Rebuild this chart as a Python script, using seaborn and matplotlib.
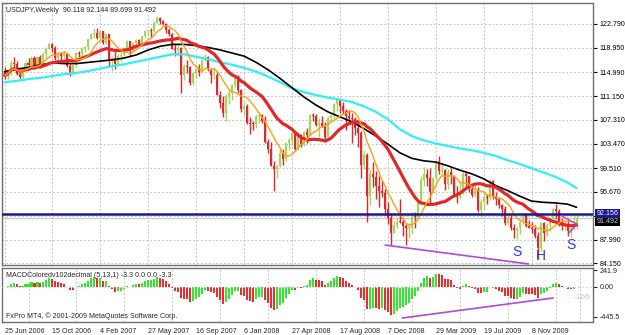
import numpy as np
import pandas as pd
import matplotlib
matplotlib.use("Agg")
import matplotlib.pyplot as plt
import seaborn as sns

# ---------------- data (weekly USDJPY bars) ----------------
opens = [115.0, 114.5, 114.9, 116.5, 116.4, 114.7, 114.2, 115.4, 116.5, 116.2,
         117.3, 116.0, 117.4, 116.4, 118.0, 118.8, 119.6, 118.9, 117.3, 118.0,
         117.6, 118.0, 116.0, 114.9, 116.1, 118.1, 117.9, 118.9, 119.1, 120.3,
         121.2, 121.4, 120.6, 121.6, 119.7, 121.1, 116.9, 117.3, 116.4, 117.6,
         117.8, 118.9, 120.0, 118.5, 119.8, 120.2, 119.6, 120.8, 121.6, 121.7,
         121.6, 123.0, 123.8, 123.2, 122.8, 121.9, 121.1, 118.8, 118.6, 118.9,
         114.6, 116.0, 115.8, 113.2, 114.8, 115.5, 115.0, 117.0, 117.5, 115.6,
         114.5, 114.6, 111.4, 110.1, 108.5, 111.0, 111.6, 112.9, 114.0, 112.2,
         109.0, 109.5, 106.8, 106.7, 106.6, 107.9, 108.1, 107.1, 103.8, 102.6,
         99.8, 99.3, 99.8, 101.9, 101.0, 103.5, 104.0, 105.2, 102.6, 104.9,
         103.3, 105.4, 104.9, 108.1, 107.9, 106.5, 106.8, 106.3, 104.6, 107.6,
         108.1, 109.9, 110.5, 109.6, 108.8, 107.9, 107.6, 107.4, 106.0, 105.2,
         100.1, 101.7, 95.0, 98.5, 98.1, 96.6, 95.8, 95.5, 92.9, 91.4,
         89.1, 90.3, 90.9, 90.8, 90.2, 89.8, 89.9, 92.1, 91.6, 94.0,
         97.6, 98.6, 98.0, 95.6, 97.9, 100.3, 99.0, 99.2, 97.0, 98.9,
         98.3, 95.2, 94.9, 95.4, 98.5, 98.2, 96.2, 95.2, 96.0, 92.7,
         94.1, 94.8, 94.7, 97.5, 94.8, 94.5, 93.6, 92.9, 90.7, 91.5,
         89.8, 89.6, 89.8, 90.9, 92.1, 90.2, 89.9, 89.7, 88.6, 86.7,
         90.6, 89.1, 90.4, 91.3, 92.9, 92.6, 90.8, 90.2, 90.3, 89.3,
         89.8, 90.118]
highs = [115.9, 115.3, 116.9, 117.4, 116.8, 115.0, 115.6, 116.8, 117.3, 117.6,
         117.6, 117.6, 117.8, 118.2, 119.0, 119.9, 119.8, 119.2, 118.2, 118.3,
         118.4, 118.1, 116.4, 116.2, 118.2, 118.4, 119.0, 119.3, 120.4, 121.4,
         122.2, 122.2, 121.9, 121.7, 121.3, 121.2, 117.6, 118.2, 118.0, 118.3,
         119.0, 120.2, 120.0, 119.9, 120.4, 120.4, 120.9, 121.8, 121.9, 122.2,
         123.2, 124.1, 123.9, 123.5, 123.0, 122.2, 121.4, 119.6, 119.6, 119.0,
         116.4, 117.0, 116.0, 115.0, 116.2, 116.3, 117.2, 117.9, 117.7, 115.7,
         115.9, 115.0, 112.0, 111.2, 111.5, 112.2, 113.1, 114.2, 114.6, 112.3,
         110.2, 109.8, 107.8, 107.2, 108.1, 108.6, 108.3, 108.0, 104.2, 103.8,
         100.6, 100.0, 102.7, 102.6, 103.6, 104.4, 105.5, 105.4, 105.3, 105.1,
         105.5, 106.0, 108.3, 108.4, 108.2, 107.6, 108.0, 106.9, 107.9, 108.3,
         110.0, 110.7, 110.6, 110.2, 109.1, 108.9, 108.4, 107.8, 107.0, 105.5,
         102.4, 102.0, 99.4, 100.5, 99.0, 98.2, 97.5, 96.2, 94.1, 92.3,
         91.0, 91.7, 94.6, 91.4, 90.5, 90.6, 92.5, 92.4, 94.2, 98.2,
         99.7, 99.3, 99.5, 98.1, 100.7, 101.4, 100.2, 99.3, 99.4, 99.6,
         98.4, 96.6, 97.4, 99.0, 98.9, 98.3, 97.0, 97.0, 96.4, 94.5,
         95.5, 95.4, 97.8, 97.6, 95.6, 94.9, 93.8, 93.4, 92.0, 91.9,
         90.5, 89.9, 91.0, 92.3, 92.3, 91.2, 90.8, 90.3, 89.2, 90.8,
         90.9, 90.6, 91.6, 93.1, 93.8, 93.0, 91.5, 91.0, 91.3, 90.0,
         91.8, 92.144]
lows = [113.9, 113.9, 114.5, 115.6, 114.6, 113.9, 113.8, 115.2, 115.9, 116.0,
        115.5, 115.9, 115.7, 116.3, 117.2, 118.7, 118.3, 117.0, 116.6, 117.0,
        117.3, 115.8, 114.4, 114.6, 115.9, 117.5, 117.6, 118.2, 118.6, 120.3,
        120.5, 120.3, 120.5, 119.5, 119.6, 115.9, 115.2, 115.5, 116.2, 116.8,
        117.6, 118.8, 117.7, 118.3, 119.3, 119.2, 119.5, 120.6, 120.9, 120.7,
        121.5, 122.9, 122.8, 122.6, 121.4, 120.9, 118.7, 117.7, 117.6, 111.6,
        113.8, 114.9, 113.0, 112.9, 114.1, 114.4, 114.9, 116.8, 115.2, 113.3,
        113.9, 111.3, 109.3, 107.8, 107.2, 109.8, 110.6, 112.6, 111.7, 108.6,
        108.1, 106.6, 105.0, 105.6, 106.0, 106.8, 106.8, 103.6, 101.9, 99.8,
        95.8, 97.9, 99.7, 100.1, 100.6, 102.4, 103.3, 102.3, 102.5, 102.9,
        103.1, 103.6, 104.8, 107.2, 106.4, 104.6, 106.2, 103.8, 104.5, 107.0,
        107.3, 108.7, 108.5, 108.3, 105.6, 106.6, 103.5, 104.9, 103.0, 97.9,
        99.3, 90.9, 93.6, 96.4, 94.6, 93.2, 94.9, 92.0, 90.5, 87.1,
        89.0, 89.9, 90.6, 88.6, 87.1, 88.2, 88.9, 89.9, 91.4, 93.9,
        96.7, 96.6, 93.6, 95.5, 97.5, 98.6, 98.2, 96.0, 96.1, 97.0,
        95.1, 93.9, 94.5, 95.3, 96.6, 95.7, 94.8, 94.9, 92.4, 91.7,
        92.9, 93.8, 94.3, 94.6, 93.6, 93.1, 91.8, 90.4, 90.4, 89.6,
        88.2, 88.0, 88.9, 90.5, 90.0, 89.9, 89.1, 88.3, 84.8, 86.2,
        87.8, 88.5, 89.4, 90.9, 91.3, 90.2, 89.6, 89.5, 88.6, 88.4,
        89.6, 89.699]
closes = [114.5, 114.9, 116.5, 116.4, 114.7, 114.2, 115.4, 116.5, 116.2, 117.3,
          116.0, 117.4, 116.4, 118.0, 118.8, 119.6, 118.9, 117.3, 118.0, 117.6,
          118.0, 116.0, 114.9, 116.1, 118.1, 117.9, 118.9, 119.1, 120.3, 121.2,
          121.4, 120.6, 121.6, 119.7, 121.1, 116.9, 117.3, 116.4, 117.6, 117.8,
          118.9, 120.0, 118.5, 119.8, 120.2, 119.6, 120.8, 121.6, 121.7, 121.6,
          123.0, 123.8, 123.2, 122.8, 121.9, 121.1, 118.8, 118.6, 118.9, 114.6,
          116.0, 115.8, 113.2, 114.8, 115.5, 115.0, 117.0, 117.5, 115.6, 114.5,
          114.6, 111.4, 110.1, 108.5, 111.0, 111.6, 112.9, 114.0, 112.2, 109.0,
          109.5, 106.8, 106.7, 106.6, 107.9, 108.1, 107.1, 103.8, 102.6, 99.8,
          99.3, 99.8, 101.9, 101.0, 103.5, 104.0, 105.2, 102.6, 104.9, 103.3,
          105.4, 104.9, 108.1, 107.9, 106.5, 106.8, 106.3, 104.6, 107.6, 108.1,
          109.9, 110.5, 109.6, 108.8, 107.9, 107.6, 107.4, 106.0, 105.2, 100.1,
          101.7, 95.0, 98.5, 98.1, 96.6, 95.8, 95.5, 92.9, 91.4, 89.1,
          90.3, 90.9, 90.8, 90.2, 89.8, 89.9, 92.1, 91.6, 94.0, 97.6,
          98.6, 98.0, 95.6, 97.9, 100.3, 99.0, 99.2, 97.0, 98.9, 98.3,
          95.2, 94.9, 95.4, 98.5, 98.2, 96.2, 95.2, 96.0, 92.7, 94.1,
          94.8, 94.7, 97.5, 94.8, 94.5, 93.6, 92.9, 90.7, 91.5, 89.8,
          89.6, 89.8, 90.9, 92.1, 90.2, 89.9, 89.7, 88.6, 86.7, 90.6,
          89.1, 90.4, 91.3, 92.9, 92.6, 90.8, 90.2, 90.3, 89.3, 89.8,
          90.1, 91.492]

# slow moving averages (read every 4 weeks from the chart)
ma_idx = [0, 4, 8, 12, 16, 20, 24, 28, 32, 36, 40, 44, 48, 52, 56, 60, 64, 68,
          72, 76, 80, 84, 88, 92, 96, 100, 104, 108, 112, 116, 120, 124, 128,
          132, 136, 140, 144, 148, 152, 156, 160, 164, 168, 172, 176, 180, 184,
          188, 191]
ma_black = [115.1, 115.5, 115.8, 116.2, 116.5, 116.4, 116.4, 116.6, 116.8, 117.0,
            117.3, 117.8, 118.6, 119.2, 119.5, 119.5, 119.3, 119.0, 118.6, 118.1,
            117.6, 116.6, 115.4, 114.0, 112.5, 111.0, 109.7, 108.6, 107.8, 107.0,
            105.9, 104.7, 103.4, 102.0, 101.1, 100.7, 100.5, 99.9, 99.2, 98.6,
            97.8, 96.7, 95.9, 95.0, 94.2, 94.0, 93.9, 93.7, 93.2]
ma_cyan = [113.4, 113.6, 113.9, 114.1, 114.4, 114.7, 114.9, 115.2, 115.6, 116.0,
           116.3, 116.7, 117.1, 117.5, 117.9, 117.9, 117.5, 117.1, 116.6, 116.2,
           115.7, 115.1, 114.3, 113.4, 112.4, 111.8, 111.3, 110.9, 110.6, 110.2,
           109.5, 108.6, 107.4, 105.8, 104.7, 104.0, 103.5, 103.1, 102.7, 102.4,
           102.0, 101.5, 100.8, 100.2, 99.5, 98.8, 98.1, 97.2, 96.3]

price_ticks = [122.79, 118.95, 114.99, 111.15, 107.31, 103.47, 99.51, 95.67, 91.83, 87.99, 84.15]
price_tick_labels = ["122.790", "118.950", "114.990", "111.150", "107.310", "103.470",
                     "99.510", "95.670", "", "87.990", "84.150"]
date_idx = [0, 16, 32, 48, 64, 80, 96, 112, 128, 144, 160, 176]
date_labels = ["25 Jun 2006", "15 Oct 2006", "4 Feb 2007", "27 May 2007", "16 Sep 2007",
               "6 Jan 2008", "27 Apr 2008", "17 Aug 2008", "7 Dec 2008", "29 Mar 2009",
               "19 Jul 2009", "8 Nov 2009"]
macd_ticks = [241.9, 0.0, -445.5]
macd_tick_labels = ["241.9", "0.00", "-445.5"]
hline_level = 92.156

# trend lines and pattern letters drawn on the chart
trend_main_x = [127.1, 174.9]
trend_main_y = [87.1, 84.05]
trend_small1_x = [188.2, 191.1]
trend_small1_y = [88.9, 90.4]
trend_small2_x = [186.0, 191.1]
trend_small2_y = [91.8, 90.5]
trend_macd_x = [132.8, 183.2]
trend_macd_y = [-465.0, -168.0]
pattern_letters = ["S", "H", "S"]
pattern_x = [171.1, 179.1, 189.1]
pattern_y = [86.0, 85.3, 87.1]

# ---------------- figure ----------------
sns.set_style("white")
plt.rcParams["font.family"] = ["Liberation Sans", "DejaVu Sans"]

df = pd.DataFrame({"o": opens, "h": highs, "l": lows, "c": closes})
df["i"] = np.arange(len(df))
df["sma8"] = df["c"].rolling(8, min_periods=1).mean()
df["sma21"] = df["c"].rolling(21, min_periods=1).mean()
ema5 = df["c"].ewm(span=5, adjust=False).mean()
ema13 = df["c"].ewm(span=13, adjust=False).mean()
df["macd"] = (ema5 - ema13) * 100
rising = df["macd"].diff().fillna(1) >= 0

fig = plt.figure(figsize=(6.25, 3.35), dpi=100)
fig.patch.set_facecolor("white")
ax = fig.add_axes([2 / 625, 70 / 335, 591 / 625, 262 / 335])
ax2 = fig.add_axes([2 / 625, 13 / 335, 591 / 625, 54 / 335], sharex=ax)

XMIN, XMAX = -0.85, 196.5
grid_pos = np.arange(0, 197, 8)
grid_kw = dict(color="#c4c4c4", lw=0.7, linestyle=(0, (2, 2)))
FS = 5.1

# --- main price panel ---
bull = df["c"] >= df["o"]
col = np.where(bull, "#a6d45e", "#e3262a")
ax.vlines(df["i"], df["l"], df["h"], colors=col, lw=1.0, zorder=3)
body_lo = np.minimum(df["o"], df["c"])
body_h = np.maximum(np.abs(df["c"] - df["o"]), 0.15)
ax.bar(df["i"], body_h, bottom=body_lo, width=0.68, color=col, linewidth=0, zorder=3)

sns.lineplot(x=ma_idx, y=ma_cyan, ax=ax, color="#33eef5", lw=1.6, zorder=4)
sns.lineplot(x=ma_idx, y=ma_black, ax=ax, color="black", lw=1.2, zorder=4)
sns.lineplot(x=df["i"], y=df["sma21"], ax=ax, color="#e3262a", lw=2.3, zorder=5)
sns.lineplot(x=df["i"], y=df["sma8"], ax=ax, color="#ffa010", lw=1.0, zorder=6)

ax.axhline(closes[-1], color="#c8c8c8", lw=0.9, zorder=2)
ax.axhline(hline_level, color="#1a1a8c", lw=1.8, zorder=7)

ax.plot(trend_main_x, trend_main_y, color="#b04ad8", lw=1.2, zorder=7)
ax.plot(trend_small1_x, trend_small1_y, color="#b04ad8", lw=1.0, zorder=7)
ax.plot(trend_small2_x, trend_small2_y, color="#b04ad8", lw=1.0, zorder=7)
for t, xx, yy in zip(pattern_letters, pattern_x, pattern_y):
    ax.text(xx, yy, t, color="#2b3cf0", fontsize=10, ha="center", va="center", zorder=8)

ax.set_xlim(XMIN, XMAX)
ax.set_ylim(83.88, 126.18)
ax.set_xticks(grid_pos)
ax.tick_params(axis="x", length=0, labelbottom=False)
ax.yaxis.tick_right()
ax.set_yticks(price_ticks)
ax.set_yticklabels(price_tick_labels)
ax.tick_params(axis="y", length=3, width=0.8, pad=2, labelsize=FS, colors="black")
ax.grid(True, **grid_kw)
ax.set_axisbelow(True)
for s in ax.spines.values():
    s.set_color("#707070")
    s.set_linewidth(1.0)
ax.set_xlabel("")
ax.set_ylabel("")

title = "USDJPY,Weekly  {:.3f} {:.3f} {:.3f} {:.3f}".format(opens[-1], highs[-1], lows[-1], closes[-1])
ax.text(0.006, 0.985, title, transform=ax.transAxes, fontsize=FS, ha="left", va="top", zorder=9)

# price label boxes on the right axis
ax.text(1.006, closes[-1] - 0.55, "{:.3f}".format(closes[-1]), transform=ax.get_yaxis_transform(),
        fontsize=FS, color="#d0d0d0", ha="left", va="center", clip_on=False,
        bbox=dict(boxstyle="square,pad=0.15", fc="black", ec="none"))
ax.text(1.006, hline_level, "{:.3f}".format(hline_level), transform=ax.get_yaxis_transform(),
        fontsize=FS, color="white", ha="left", va="center", clip_on=False,
        bbox=dict(boxstyle="square,pad=0.15", fc="#1a1a8c", ec="none"))

# --- MACD panel ---
mcol = np.where(rising, "#2fe82f", "#ee2c2c")
ax2.bar(df["i"], df["macd"], width=0.68, color=mcol, linewidth=0, zorder=3)
ax2.axhline(0, color="#d8d8d8", lw=0.7, linestyle=(0, (2, 2)), zorder=4)
ax2.plot(trend_macd_x, trend_macd_y, color="#b04ad8", lw=1.2, zorder=5)
ax2.set_ylim(-524, 276)
ax2.yaxis.tick_right()
ax2.set_yticks(macd_ticks)
ax2.set_yticklabels(macd_tick_labels)
ax2.tick_params(axis="y", length=3, width=0.8, pad=2, labelsize=FS)
ax2.set_xticks(date_idx)
ax2.set_xticklabels(date_labels, ha="left")
ax2.set_xticks(grid_pos, minor=True)
ax2.tick_params(axis="x", which="major", length=3, width=0.8, pad=1, labelsize=FS)
ax2.tick_params(axis="x", which="minor", length=0)
ax2.grid(True, which="minor", axis="x", **grid_kw)
ax2.set_axisbelow(True)
for s in ax2.spines.values():
    s.set_color("#707070")
    s.set_linewidth(1.0)
ax2.text(0.006, 0.93, "MACDColoredv102decimal (5,13,1) -3.3 0.0 0.0 -3.3",
         transform=ax2.transAxes, fontsize=FS, ha="left", va="top", zorder=9)
ax2.text(0.006, 0.04, "FxPro MT4, \u00a9 2001-2009 MetaQuotes Software Corp.",
         transform=ax2.transAxes, fontsize=FS, ha="left", va="bottom", zorder=9)
ax2.text(0.995, -166, "-166", transform=ax2.get_yaxis_transform(), fontsize=6,
         color="#c8c8c8", ha="right", va="center", zorder=9)
ax2.set_xlabel("")
ax2.set_ylabel("")

fig.savefig("out.png", dpi=100, facecolor="white")
